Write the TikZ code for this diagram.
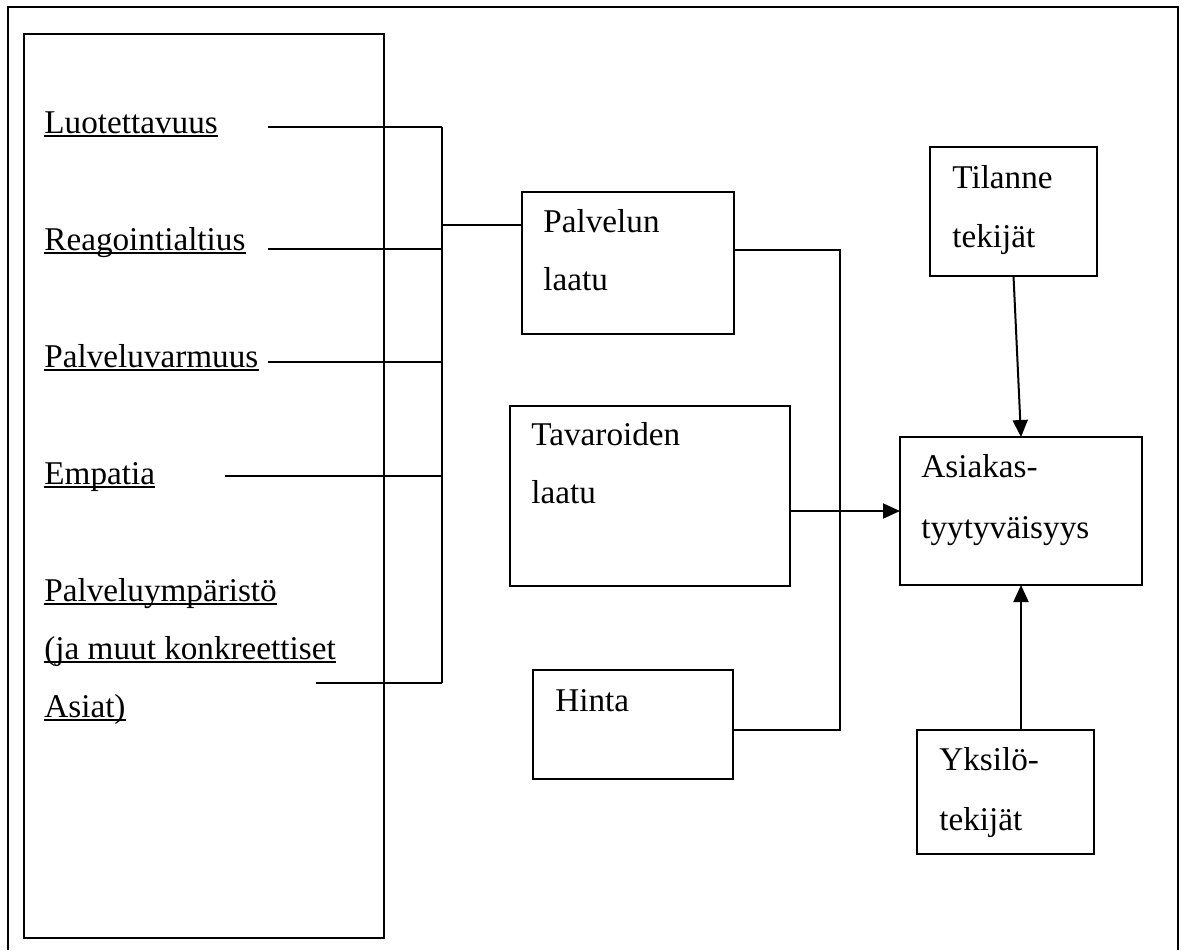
\documentclass[tikz,border=0pt]{standalone}
\usepackage{fontspec}
\setmainfont{Liberation Serif}
\usetikzlibrary{arrows.meta}
\begin{document}
\begin{tikzpicture}[x=0.5pt,y=-0.5pt,
  lbl/.style={anchor=base west,inner sep=0pt,font=\fontsize{16.6}{20}\selectfont},
  box/.style={draw,line width=1pt,anchor=north west,inner sep=0pt,outer sep=0pt},
  wire/.style={line width=1pt},
  uline/.style={line width=0.75pt},
  arr/.style={line width=1pt,-{Triangle[length=8.5pt,width=7.5pt]}}]
\useasboundingbox (0,0) rectangle (1182,950);
% outer frame (open at the bottom)
\draw[line width=1.1pt] (8,950) -- (8,7) -- (1178,7) -- (1178,950);

% left panel
\node[box,minimum width=180pt,minimum height=452pt] (panel) at (24,34) {};

% dimensions of service quality
\node[lbl] (luo) at (44,133) {Luotettavuus};
\node[lbl] (rea) at (44,250) {Reagointialtius};
\node[lbl] (pvm) at (44,367) {Palveluvarmuus};
\node[lbl] (emp) at (44,484) {Empatia};
\node[lbl] (pym) at (44,601) {Palveluympäristö};
\node[lbl] (jam) at (44,659) {(ja muut konkreettiset};
\node[lbl] (asi) at (44,717) {Asiat)};
\foreach \n in {luo,rea,pvm,emp,pym,jam,asi}
  \draw[uline] ([yshift=-1.6pt]\n.base west) -- ([yshift=-1.6pt]\n.base east);

% boxes
\node[box,minimum width=106pt,minimum height=71pt] (pal) at (522,192) {};
\node[box,minimum width=140pt,minimum height=90pt] (tav) at (510,406) {};
\node[box,minimum width=100pt,minimum height=54.5pt] (hin) at (533,670) {};
\node[box,minimum width=83.5pt,minimum height=64.5pt] (til) at (930,147) {};
\node[box,minimum width=121pt,minimum height=74pt] (tyy) at (900,437) {};
\node[box,minimum width=88.5pt,minimum height=62pt] (yks) at (917,730) {};

\node[lbl] (pal1) at (543,232) {Palvelun};
\node[lbl] (pal2) at (543,290) {laatu};
\node[lbl] (tav1) at (531,445) {Tavaroiden};
\node[lbl] (tav2) at (531,503) {laatu};
\node[lbl] (hin1) at (555,711) {Hinta};
\node[lbl] (til1) at (952,188) {Tilanne};
\node[lbl] (til2) at (952,247) {tekijät};
\node[lbl] (tyy1) at (921,477) {Asiakas-};
\node[lbl] (tyy2) at (921,538) {tyytyväisyys};
\node[lbl] (yks1) at (939,770) {Yksilö-};
\node[lbl] (yks2) at (939,830) {tekijät};

% collecting bus
\coordinate (b1) at (442,127);
\coordinate (b2) at (442,249);
\coordinate (b3) at (442,362);
\coordinate (b4) at (442,476);
\coordinate (b5) at (442,683);
\coordinate (bp) at (442,225);
\coordinate (s1) at (268,127);
\coordinate (s2) at (268,249);
\coordinate (s3) at (268,362);
\coordinate (s4) at (225,476);
\coordinate (s5) at (316,683);
\draw[wire] (b1) -- (b5);
\draw[wire] (s1) -- (b1);
\draw[wire] (s2) -- (b2);
\draw[wire] (s3) -- (b3);
\draw[wire] (s4) -- (b4);
\draw[wire] (s5) -- (b5);
\draw[wire] (bp) -- (bp -| pal.west);

% right-hand bus into customer satisfaction
\coordinate (r1) at (840,250);
\coordinate (r2) at (840,730);
\draw[wire] (r1 -| pal.east) -- (r1) -- (r2) -- (r2 -| hin.east);
\draw[arr] (tav.east |- tyy.west) -- (tyy.west);
\draw[arr] (til.south) -- (tyy.north);
\draw[arr] (yks.north -| tyy.south) -- (tyy.south);
\end{tikzpicture}
\end{document}
